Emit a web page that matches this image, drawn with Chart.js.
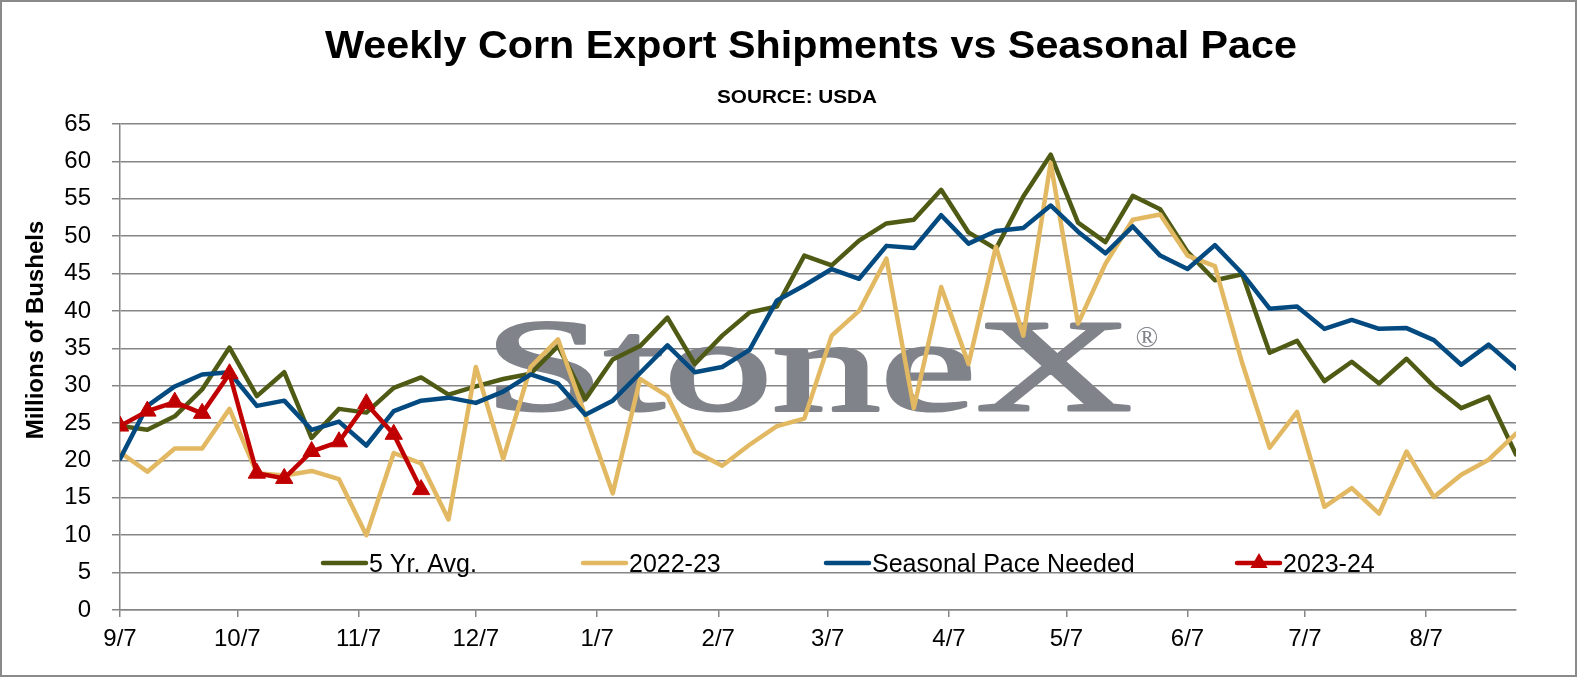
<!DOCTYPE html>
<html>
<head>
<meta charset="utf-8">
<script src="https://cdn.jsdelivr.net/npm/chart.js@4.4.1/dist/chart.umd.min.js"></script>
<style>
  html, body { margin: 0; padding: 0; background: #fff; }
  #wrap { width: 1577px; height: 677px; position: relative; }
</style>
</head>
<body>
<div id="wrap"><canvas id="cornExports"></canvas></div>
<script>
// x axis: days after 9/7, ticks on the 7th of each month
const monthDays   = [0, 30, 61, 91, 122, 153, 181, 212, 242, 273, 303, 334];
const monthLabels = ['9/7', '10/7', '11/7', '12/7', '1/7', '2/7', '3/7', '4/7', '5/7', '6/7', '7/7', '8/7'];
const yTicksMax = 65;

// weekly shipments, millions of bushels (one value per week starting 9/7)
const fiveYrAvg = [24.6, 24.1, 25.9, 29.5, 35.1, 28.6, 31.8, 23.0, 26.9, 26.4,
                   29.7, 31.1, 28.8, 29.9, 30.9, 31.6, 35.3, 28.2, 33.5, 35.3,
                   39.1, 32.9, 36.7, 39.8, 40.6, 47.4, 46.1, 49.4, 51.7, 52.2,
                   56.2, 50.5, 48.3, 55.3, 60.9, 51.8, 49.2, 55.4, 53.6, 47.9,
                   44.1, 44.9, 34.4, 36.0, 30.6, 33.2, 30.3, 33.6, 29.9, 27.0,
                   28.5, 20.8];
const season2223 = [21.1, 18.5, 21.6, 21.6, 26.9, 18.3, 18.0, 18.6, 17.5, 10.0,
                    21.0, 19.6, 12.1, 32.5, 20.2, 32.5, 36.2, 26.0, 15.6, 30.9,
                    28.6, 21.2, 19.3, 22.1, 24.6, 25.6, 36.7, 40.0, 47.0, 27.0,
                    43.2, 32.9, 48.6, 36.7, 59.8, 38.3, 46.3, 52.2, 52.9, 47.4,
                    46.0, 33.0, 21.7, 26.5, 13.8, 16.3, 12.9, 21.2, 15.1, 18.1,
                    20.1, 23.6];
const paceNeeded = [20.2, 27.3, 29.9, 31.5, 31.8, 27.3, 28.0, 24.1, 25.2, 22.0,
                    26.6, 28.0, 28.4, 27.7, 29.2, 31.5, 30.3, 26.1, 28.0, 31.7,
                    35.4, 31.8, 32.5, 34.8, 41.4, 43.4, 45.6, 44.3, 48.7, 48.4,
                    52.8, 49.0, 50.7, 51.1, 54.1, 50.6, 47.7, 51.3, 47.4, 45.6,
                    48.8, 45.0, 40.3, 40.6, 37.6, 38.8, 37.6, 37.7, 36.1, 32.8,
                    35.5, 32.3];
const season2324 = [24.6, 26.6, 27.8, 26.3, 31.6, 18.3, 17.6, 21.2, 22.5, 27.6, 23.5, 16.1];

const seriesNames = ['5 Yr. Avg.', '2022-23', 'Seasonal Pace Needed', '2023-24'];

const GREEN = '#4f5b14';
const TAN = '#e2b962';
const BLUE = '#034a80';
const RED = '#c00000';
const GRID = '#868686';
const FONT = '"Liberation Sans", Arial, sans-serif';

function weekly(values) {
  return values.map((v, i) => ({x: i * 7, y: v}));
}

// text stretched horizontally to a given width (the original titles are a bit wide)
function stretchedText(ctx, text, cx, y, width) {
  const natural = ctx.measureText(text).width;
  ctx.save();
  ctx.translate(cx, y);
  ctx.scale(width / natural, 1);
  ctx.textAlign = 'center';
  ctx.fillText(text, 0, 0);
  ctx.restore();
}

const decor = {
  id: 'decor',
  beforeDatasetsDraw(chart) {
    const ctx = chart.ctx;
    // StoneX watermark
    ctx.save();
    ctx.fillStyle = '#80838a';
    ctx.strokeStyle = '#80838a';
    ctx.lineWidth = 3;
    ctx.lineJoin = 'round';
    ctx.font = '132px "Liberation Serif", "Times New Roman", serif';
    ctx.textBaseline = 'alphabetic';
    const w = ctx.measureText('StoneX').width;
    ctx.translate(484, 410);
    ctx.scale(648 / w, 1);
    ctx.fillText('StoneX', 0, 0);
    ctx.strokeText('StoneX', 0, 0);
    ctx.restore();
    ctx.save();
    ctx.fillStyle = '#80838a';
    ctx.font = '30px "Liberation Serif", serif';
    ctx.textAlign = 'center';
    ctx.textBaseline = 'middle';
    ctx.fillText('\u00AE', 1147, 339);
    ctx.restore();
  },
  afterDraw(chart) {
    const ctx = chart.ctx;
    ctx.save();
    ctx.fillStyle = '#000';
    ctx.textBaseline = 'alphabetic';

    ctx.font = 'bold 38px ' + FONT;
    stretchedText(ctx, 'Weekly Corn Export Shipments vs Seasonal Pace', 811, 58, 972);

    ctx.font = 'bold 19px ' + FONT;
    stretchedText(ctx, 'SOURCE: USDA', 797, 103, 160);

    // y axis title
    ctx.save();
    ctx.translate(43, 330);
    ctx.rotate(-Math.PI / 2);
    ctx.font = 'bold 24px ' + FONT;
    ctx.textAlign = 'center';
    ctx.fillText('Millions of Bushels', 0, 0);
    ctx.restore();

    // legend inside the plot area
    const colors = [GREEN, TAN, BLUE, RED];
    const starts = [323, 583, 826, 1237];
    const ly = 563;
    ctx.font = '25px ' + FONT;
    ctx.textAlign = 'left';
    seriesNames.forEach((name, i) => {
      const x0 = starts[i];
      ctx.strokeStyle = colors[i];
      ctx.lineWidth = 4.5;
      ctx.lineCap = 'round';
      ctx.beginPath();
      ctx.moveTo(x0, ly);
      ctx.lineTo(x0 + 43, ly);
      ctx.stroke();
      if (i === 3) {
        const r = 10, cx = x0 + 22;
        ctx.fillStyle = RED;
        ctx.beginPath();
        ctx.moveTo(cx, ly - r);
        ctx.lineTo(cx + r * 0.866, ly + r * 0.5);
        ctx.lineTo(cx - r * 0.866, ly + r * 0.5);
        ctx.closePath();
        ctx.fill();
      }
      ctx.fillStyle = '#000';
      ctx.fillText(name, x0 + 46, ly + 9);
    });

    // outer frame
    ctx.strokeStyle = '#8a8a8a';
    ctx.lineWidth = 2;
    ctx.strokeRect(1, 1, chart.width - 2, chart.height - 2);
    ctx.restore();
  }
};

new Chart(document.getElementById('cornExports').getContext('2d'), {
  type: 'line',
  data: {
    datasets: [
      {label: seriesNames[0], data: weekly(fiveYrAvg), borderColor: GREEN, borderWidth: 4.5, pointRadius: 0, order: 4},
      {label: seriesNames[1], data: weekly(season2223), borderColor: TAN, borderWidth: 4.5, pointRadius: 0, order: 3},
      {label: seriesNames[2], data: weekly(paceNeeded), borderColor: BLUE, borderWidth: 4.5, pointRadius: 0, order: 2},
      {label: seriesNames[3], data: weekly(season2324), borderColor: RED, backgroundColor: RED, borderWidth: 4.5,
       pointStyle: 'triangle', pointRadius: 10, pointBorderWidth: 1, pointBackgroundColor: RED, pointBorderColor: RED, order: 1}
    ]
  },
  options: {
    responsive: true,
    maintainAspectRatio: false,
    animation: false,
    layout: {padding: {top: 124, right: 61, bottom: 0, left: 0}},
    elements: {line: {tension: 0, borderCapStyle: 'round', borderJoinStyle: 'round'}},
    plugins: {legend: {display: false}, tooltip: {enabled: false}},
    scales: {
      x: {
        type: 'linear',
        min: 0,
        max: 357,
        afterBuildTicks: (scale) => { scale.ticks = monthDays.map(v => ({value: v})); },
        afterFit: (scale) => { scale.height = 67; },
        grid: {drawOnChartArea: false, drawTicks: true, tickLength: 7, color: GRID, lineWidth: 1.5},
        border: {color: GRID, width: 1.5},
        ticks: {
          autoSkip: false, maxRotation: 0, padding: 8, color: '#000',
          font: {family: FONT, size: 24},
          callback: (value) => monthLabels[monthDays.indexOf(value)]
        }
      },
      y: {
        min: 0,
        max: yTicksMax,
        afterFit: (scale) => { scale.width = 120; },
        grid: {color: GRID, lineWidth: 1.5, tickLength: 8},
        border: {color: GRID, width: 1.5},
        ticks: {
          stepSize: 5, padding: 21, color: '#000',
          font: {family: FONT, size: 24}
        }
      }
    }
  },
  plugins: [decor]
});
</script>
</body>
</html>
